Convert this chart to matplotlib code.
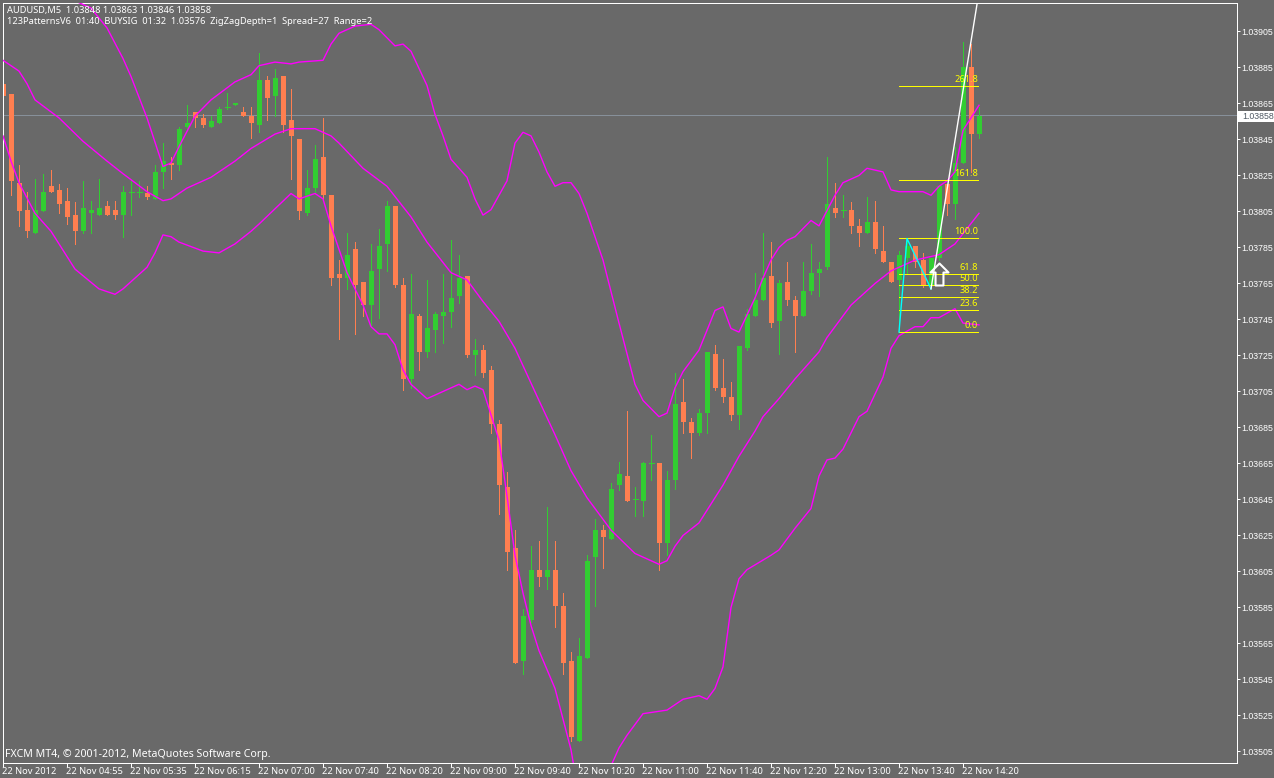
import matplotlib
matplotlib.use("Agg")
import matplotlib.pyplot as plt
from matplotlib.path import Path
from matplotlib.transforms import blended_transform_factory, ScaledTranslation

W, H = 1274, 778
BG = "#696969"
UP = "#32cd32"
DOWN = "#ff7f50"
BAND = "#ff00ff"
FONT = "Noto Sans"
PRICE_FONT = "Liberation Sans"
FS = 6.7
PRICE_FS = 6.3

# M5 bars, AUDUSD
open_ = [1.03876, 1.03870, 1.03821, 1.03806, 1.03793, 1.03805, 1.03819, 1.03817, 1.03811, 1.03803,
         1.03794, 1.03804, 1.03803, 1.03808, 1.03806, 1.03803, 1.03816, 1.03816, 1.03815, 1.03812,
         1.03827, 1.03832, 1.03831, 1.03852, 1.03860, 1.03857, 1.03852, 1.03854, 1.03863, 1.03864,
         1.03860, 1.03858, 1.03853, 1.03878, 1.03869, 1.03880, 1.03856, 1.03845, 1.03804, 1.03818,
         1.03835, 1.03814, 1.03770, 1.03768, 1.03784, 1.03766, 1.03753, 1.03773, 1.03787, 1.03808,
         1.03764, 1.03712, 1.03747, 1.03727, 1.03739, 1.03747, 1.03749, 1.03758, 1.03769, 1.03725,
         1.03728, 1.03717, 1.03687, 1.03652, 1.03618, 1.03555, 1.03578, 1.03606, 1.03602, 1.03606,
         1.03586, 1.03555, 1.03511, 1.03557, 1.03613, 1.03628, 1.03623, 1.03653, 1.03658, 1.03645,
         1.03644, 1.03665, 1.03665, 1.03621, 1.03656, 1.03699, 1.03688, 1.03682, 1.03693, 1.03726,
         1.03707, 1.03702, 1.03692, 1.03729, 1.03747, 1.03756, 1.03769, 1.03744, 1.03766, 1.03756,
         1.03747, 1.03761, 1.03771, 1.03774, 1.03807, 1.03806, 1.03806, 1.03797, 1.03793, 1.03799,
         1.03783, 1.03777, 1.03767, 1.03779, 1.03786, 1.03778, 1.03764, 1.03779, 1.03820, 1.03809,
         1.03832, 1.03885, 1.03848]
high = [1.03888, 1.03870, 1.03831, 1.03816, 1.03823, 1.03826, 1.03828, 1.03820, 1.03818, 1.03810,
        1.03822, 1.03811, 1.03823, 1.03811, 1.03811, 1.03819, 1.03822, 1.03822, 1.03819, 1.03831,
        1.03843, 1.03835, 1.03852, 1.03864, 1.03860, 1.03859, 1.03858, 1.03863, 1.03871, 1.03865,
        1.03863, 1.03863, 1.03893, 1.03880, 1.03884, 1.03880, 1.03873, 1.03845, 1.03828, 1.03842,
        1.03857, 1.03814, 1.03778, 1.03793, 1.03788, 1.03766, 1.03787, 1.03795, 1.03811, 1.03808,
        1.03768, 1.03770, 1.03748, 1.03767, 1.03749, 1.03770, 1.03789, 1.03781, 1.03769, 1.03734,
        1.03731, 1.03719, 1.03689, 1.03660, 1.03628, 1.03584, 1.03619, 1.03622, 1.03641, 1.03622,
        1.03593, 1.03560, 1.03568, 1.03614, 1.03634, 1.03631, 1.03654, 1.03666, 1.03694, 1.03652,
        1.03666, 1.03681, 1.03665, 1.03661, 1.03715, 1.03712, 1.03690, 1.03695, 1.03727, 1.03731,
        1.03723, 1.03710, 1.03730, 1.03751, 1.03771, 1.03793, 1.03788, 1.03767, 1.03777, 1.03758,
        1.03777, 1.03787, 1.03777, 1.03835, 1.03821, 1.03814, 1.03810, 1.03801, 1.03813, 1.03811,
        1.03797, 1.03777, 1.03783, 1.03789, 1.03786, 1.03782, 1.03779, 1.03819, 1.03820, 1.03841,
        1.03899, 1.03898, 1.03863]
low = [1.03869, 1.03814, 1.03797, 1.03791, 1.03793, 1.03805, 1.03816, 1.03804, 1.03798, 1.03787,
       1.03793, 1.03793, 1.03803, 1.03803, 1.03801, 1.03791, 1.03803, 1.03813, 1.03812, 1.03812,
       1.03818, 1.03823, 1.03828, 1.03851, 1.03852, 1.03852, 1.03852, 1.03854, 1.03862, 1.03864,
       1.03858, 1.03846, 1.03849, 1.03856, 1.03858, 1.03849, 1.03823, 1.03801, 1.03803, 1.03816,
       1.03812, 1.03764, 1.03734, 1.03762, 1.03737, 1.03747, 1.03741, 1.03746, 1.03772, 1.03763,
       1.03706, 1.03707, 1.03717, 1.03724, 1.03727, 1.03732, 1.03741, 1.03754, 1.03724, 1.03714,
       1.03713, 1.03682, 1.03637, 1.03606, 1.03554, 1.03548, 1.03577, 1.03597, 1.03595, 1.03574,
       1.03548, 1.03511, 1.03511, 1.03557, 1.03586, 1.03607, 1.03623, 1.03650, 1.03644, 1.03636,
       1.03636, 1.03656, 1.03606, 1.03614, 1.03651, 1.03682, 1.03668, 1.03681, 1.03682, 1.03706,
       1.03699, 1.03689, 1.03684, 1.03728, 1.03747, 1.03756, 1.03741, 1.03726, 1.03753, 1.03727,
       1.03747, 1.03759, 1.03758, 1.03773, 1.03802, 1.03802, 1.03793, 1.03786, 1.03793, 1.03782,
       1.03777, 1.03766, 1.03739, 1.03770, 1.03774, 1.03763, 1.03764, 1.03778, 1.03803, 1.03801,
       1.03832, 1.03827, 1.03846]
close = [1.03869, 1.03822, 1.03805, 1.03794, 1.03806, 1.03816, 1.03816, 1.03809, 1.03802, 1.03794,
         1.03807, 1.03806, 1.03807, 1.03803, 1.03803, 1.03816, 1.03816, 1.03816, 1.03813, 1.03827,
         1.03833, 1.03831, 1.03851, 1.03854, 1.03857, 1.03853, 1.03855, 1.03862, 1.03863, 1.03865,
         1.03858, 1.03854, 1.03878, 1.03868, 1.03879, 1.03853, 1.03847, 1.03805, 1.03818, 1.03834,
         1.03814, 1.03768, 1.03768, 1.03781, 1.03764, 1.03753, 1.03772, 1.03786, 1.03808, 1.03764,
         1.03712, 1.03748, 1.03727, 1.03740, 1.03748, 1.03749, 1.03757, 1.03768, 1.03725, 1.03728,
         1.03715, 1.03687, 1.03653, 1.03616, 1.03554, 1.03580, 1.03606, 1.03602, 1.03606, 1.03586,
         1.03554, 1.03513, 1.03558, 1.03611, 1.03628, 1.03624, 1.03651, 1.03659, 1.03644, 1.03645,
         1.03665, 1.03665, 1.03621, 1.03656, 1.03698, 1.03688, 1.03682, 1.03693, 1.03727, 1.03707,
         1.03702, 1.03692, 1.03730, 1.03748, 1.03756, 1.03768, 1.03743, 1.03765, 1.03756, 1.03747,
         1.03761, 1.03771, 1.03773, 1.03809, 1.03804, 1.03806, 1.03797, 1.03793, 1.03799, 1.03784,
         1.03777, 1.03766, 1.03781, 1.03786, 1.03777, 1.03764, 1.03779, 1.03819, 1.03809, 1.03832,
         1.03885, 1.03848, 1.03858]

# three indicator lines, read at the bars where they change direction
upper_bar = [8, 9, 11, 13, 15, 16, 18, 20, 21, 22, 24, 26, 29, 31, 32, 34, 36, 37, 40, 41, 42, 44,
             46, 47, 49, 50, 51, 53, 54, 55, 56, 58, 59, 60, 61, 63, 64, 65, 66, 67, 68, 69, 70,
             71, 72, 73, 75, 77, 79, 80, 82, 83, 84, 85, 87, 88, 89, 90, 91, 92, 94, 95, 96, 97,
             98, 99, 101, 102, 104, 105, 107, 108, 110, 111, 112, 115, 116, 117, 118, 119, 120,
             121, 122]
upper = [1.03925, 1.03922, 1.03918, 1.03907, 1.03890, 1.03880, 1.03857, 1.03830, 1.03832, 1.03841,
         1.03858, 1.03867, 1.03877, 1.03881, 1.03886, 1.03888, 1.03887, 1.03888, 1.03889, 1.03898,
         1.03904, 1.03908, 1.03909, 1.03906, 1.03897, 1.03898, 1.03894, 1.03875, 1.03859, 1.03847,
         1.03834, 1.03824, 1.03812, 1.03803, 1.03806, 1.03822, 1.03843, 1.03849, 1.03847, 1.03838,
         1.03827, 1.03819, 1.03821, 1.03821, 1.03815, 1.03804, 1.03778, 1.03743, 1.03709, 1.03700,
         1.03691, 1.03693, 1.03707, 1.03716, 1.03728, 1.03739, 1.03750, 1.03752, 1.03740, 1.03738,
         1.03757, 1.03768, 1.03778, 1.03785, 1.03789, 1.03791, 1.03800, 1.03797, 1.03814, 1.03821,
         1.03825, 1.03829, 1.03827, 1.03817, 1.03816, 1.03816, 1.03814, 1.03819, 1.03822, 1.03827,
         1.03850, 1.03857, 1.03864]
middle_bar = [0, 2, 3, 4, 7, 10, 13, 15, 18, 20, 21, 23, 26, 29, 31, 34, 36, 39, 41, 42, 45, 48, 51,
              53, 56, 58, 60, 62, 64, 67, 69, 71, 73, 76, 79, 82, 83, 84, 85, 87, 90, 92, 94, 95,
              97, 99, 102, 103, 106, 109, 111, 114, 117, 119, 122]
middle = [1.03889, 1.03883, 1.03876, 1.03867, 1.03857, 1.03844, 1.03833, 1.03826, 1.03816, 1.03811,
          1.03812, 1.03818, 1.03824, 1.03833, 1.03840, 1.03848, 1.03851, 1.03851, 1.03847, 1.03843,
          1.03829, 1.03819, 1.03802, 1.03788, 1.03771, 1.03767, 1.03755, 1.03744, 1.03729, 1.03700,
          1.03681, 1.03661, 1.03646, 1.03628, 1.03615, 1.03609, 1.03611, 1.03619, 1.03625, 1.03632,
          1.03653, 1.03669, 1.03683, 1.03691, 1.03701, 1.03712, 1.03727, 1.03735, 1.03753, 1.03765,
          1.03772, 1.03778, 1.03781, 1.03787, 1.03804]
lower_bar = [0, 1, 2, 4, 6, 9, 12, 14, 15, 18, 19, 20, 21, 22, 25, 27, 29, 31, 32, 36, 37, 39, 40,
             41, 43, 45, 46, 47, 48, 49, 50, 51, 53, 56, 57, 58, 59, 60, 62, 63, 64, 65, 66, 67,
             69, 71, 72, 74, 76, 77, 78, 80, 83, 85, 87, 88, 89, 90, 91, 92, 93, 96, 97, 99, 101,
             102, 103, 104, 105, 107, 108, 110, 111, 112, 114, 115, 116, 117, 119, 120, 122]
lower = [1.03847, 1.03833, 1.03821, 1.03804, 1.03794, 1.03773, 1.03762, 1.03759, 1.03762, 1.03774,
         1.03782, 1.03792, 1.03791, 1.03788, 1.03783, 1.03782, 1.03787, 1.03794, 1.03798, 1.03815,
         1.03812, 1.03815, 1.03812, 1.03797, 1.03771, 1.03753, 1.03741, 1.03737, 1.03737, 1.03731,
         1.03717, 1.03709, 1.03701, 1.03707, 1.03709, 1.03706, 1.03708, 1.03706, 1.03678, 1.03647,
         1.03614, 1.03593, 1.03575, 1.03561, 1.03540, 1.03506, 1.03480, 1.03470, 1.03497, 1.03507,
         1.03514, 1.03526, 1.03528, 1.03534, 1.03536, 1.03534, 1.03540, 1.03552, 1.03585, 1.03601,
         1.03606, 1.03614, 1.03617, 1.03629, 1.03640, 1.03658, 1.03667, 1.03668, 1.03673, 1.03691,
         1.03694, 1.03713, 1.03729, 1.03736, 1.03741, 1.03741, 1.03746, 1.03746, 1.03751, 1.03743,
         1.03742]

# fibo levels on the last swing
fib_labels = ["0.0", "23.6", "38.2", "50.0", "61.8", "100.0", "161.8", "261.8"]
fib_prices = [1.03738, 1.037501, 1.037573, 1.03764, 1.037701, 1.037901, 1.038223, 1.038745]
fib_start, fib_end = 112, 121.9

zigzag_bar = [112, 113, 116]
zigzag_price = [1.03738, 1.03790, 1.03762]
trend_bar = [116, 122]
trend_price = [1.03762, 1.03927]
arrow_bar, arrow_price = 117, 1.03770

price_ticks = [1.03505, 1.03525, 1.03545, 1.03565, 1.03585, 1.03605, 1.03625, 1.03645, 1.03665,
               1.03685, 1.03705, 1.03725, 1.03745, 1.03765, 1.03785, 1.03805, 1.03825, 1.03845,
               1.03865, 1.03885, 1.03905]
time_ticks = list(range(0, 121, 8))
time_labels = ["22 Nov 2012", "22 Nov 04:55", "22 Nov 05:35", "22 Nov 06:15", "22 Nov 07:00",
               "22 Nov 07:40", "22 Nov 08:20", "22 Nov 09:00", "22 Nov 09:40", "22 Nov 10:20",
               "22 Nov 11:00", "22 Nov 11:40", "22 Nov 12:20", "22 Nov 13:00", "22 Nov 13:40",
               "22 Nov 14:20"]
title1 = "AUDUSD,M5  1.03848 1.03863 1.03846 1.03858"
title2 = "123PatternsV6  01:40  BUYSIG  01:32  1.03576  ZigZagDepth=1  Spread=27  Range=2"
footer = "FXCM MT4, © 2001-2012, MetaQuotes Software Corp."
last_price = close[-1]

px = 1 / 100 * 72  # one pixel in points
fig = plt.figure(figsize=(W / 100, H / 100), dpi=100, facecolor=BG)
ax = fig.add_axes([2.5 / W, 1 - 762.5 / H, 1234 / W, 760 / H], facecolor=BG)
# bar i sits on pixel column 3 + 8 * i, one point of price is 1.8 pixels
ax.set_xlim(-0.0625, 154.1875)
ax.set_ylim(1.03905 - 731.01 / 1.8 * 1e-5, 1.03905 + 28.99 / 1.8 * 1e-5)

for s in ax.spines.values():
    s.set_color("white")
    s.set_linewidth(px)

# nudged up so the snapped line lands on the same row as the original
nudge_up = ScaledTranslation(0, 0.7 / 100, fig.dpi_scale_trans)
ax.hlines(last_price, -1, 155, color="#87909a", lw=px, antialiased=False, zorder=1,
          transform=ax.transData + nudge_up)

# candles
bars = list(range(len(open_)))
colors = [UP if c >= o else DOWN for o, c in zip(open_, close)]
ax.vlines(bars, low, high, colors=colors, lw=px, antialiased=False, zorder=2)
bottoms = [min(o, c) for o, c in zip(open_, close)]
heights = [abs(o - c) for o, c in zip(open_, close)]
ax.bar(bars, heights, bottom=bottoms, width=5 / 8, color=colors, linewidth=0, antialiased=False, zorder=2.1)
for b, o, c, col in zip(bars, open_, close, colors):
    if o == c:
        ax.hlines(o, b - 2.5 / 8, b + 2.5 / 8, color=col, lw=px, antialiased=False, zorder=2.1)

for xs, ys in [(upper_bar, upper), (middle_bar, middle), (lower_bar, lower)]:
    ax.plot(xs, ys, color=BAND, lw=1.0, zorder=3)

# fibo
ax.hlines(fib_prices, fib_start, fib_end, color="#ffff00", lw=px, antialiased=False, zorder=4)
for lab, p in zip(fib_labels, fib_prices):
    ax.annotate(lab, (fib_end, p), xytext=(0, 1.5), textcoords="offset points", ha="right", va="bottom",
                color="#ffff00", fontsize=FS, family=FONT, zorder=6)

ax.plot(zigzag_bar, zigzag_price, color="#00ffff", lw=1.0, zorder=4)
ax.plot(trend_bar, trend_price, color="white", lw=1.0, zorder=4)

arrow = Path([(0, 1), (0.82, 0.18), (0.36, 0.18), (0.36, -1), (-0.36, -1), (-0.36, 0.18), (-0.82, 0.18), (0, 1)], closed=True)
ax.plot([arrow_bar], [arrow_price], marker=arrow, ms=22 * px, mfc="none", mec="white", mew=1.5, zorder=5)

# axes ticks
ax.yaxis.tick_right()
ax.set_yticks(price_ticks)
ax.set_yticklabels([f"{p:.5f}" for p in price_ticks])
ax.set_xticks(time_ticks)
ax.set_xticklabels(time_labels, ha="left")
ax.tick_params(axis="y", length=3 * px, width=px, color="white", labelcolor="white", pad=1.4, labelsize=PRICE_FS)
ax.tick_params(axis="x", length=4 * px, width=px, color="white", labelcolor="white", pad=0.3, labelsize=FS)
shift = ScaledTranslation(-1 / 100, 0, fig.dpi_scale_trans)
for t in ax.get_xticklabels():
    t.set_family(FONT)
    t.set_transform(t.get_transform() + shift)
for t in ax.get_yticklabels():
    t.set_family(PRICE_FONT)

# current price tag
tf = blended_transform_factory(ax.transAxes, ax.transData)
ax.add_patch(plt.Rectangle((1.0012, last_price - 5.5 / 1.8 * 1e-5), 0.04, 11 / 1.8 * 1e-5, transform=tf,
                           facecolor="white", edgecolor="none", clip_on=False, zorder=7))
ax.text(1.00446, last_price, f"{last_price:.5f}", transform=tf, color="#505a64", fontsize=PRICE_FS, family=PRICE_FONT,
        va="center", ha="left", zorder=8, clip_on=False)

fig.text(7 / W, 1 - 11 / H, title1, color="white", fontsize=FS, family=FONT, va="center", zorder=10)
fig.text(7 / W, 1 - 21 / H, title2, color="white", fontsize=FS, family=FONT, va="center", zorder=10)
fig.text(5 / W, 1 - 754.5 / H, footer, color="white", fontsize=7.6, family=FONT, va="center", zorder=10)

fig.savefig("out.png", dpi=100, facecolor=BG)
